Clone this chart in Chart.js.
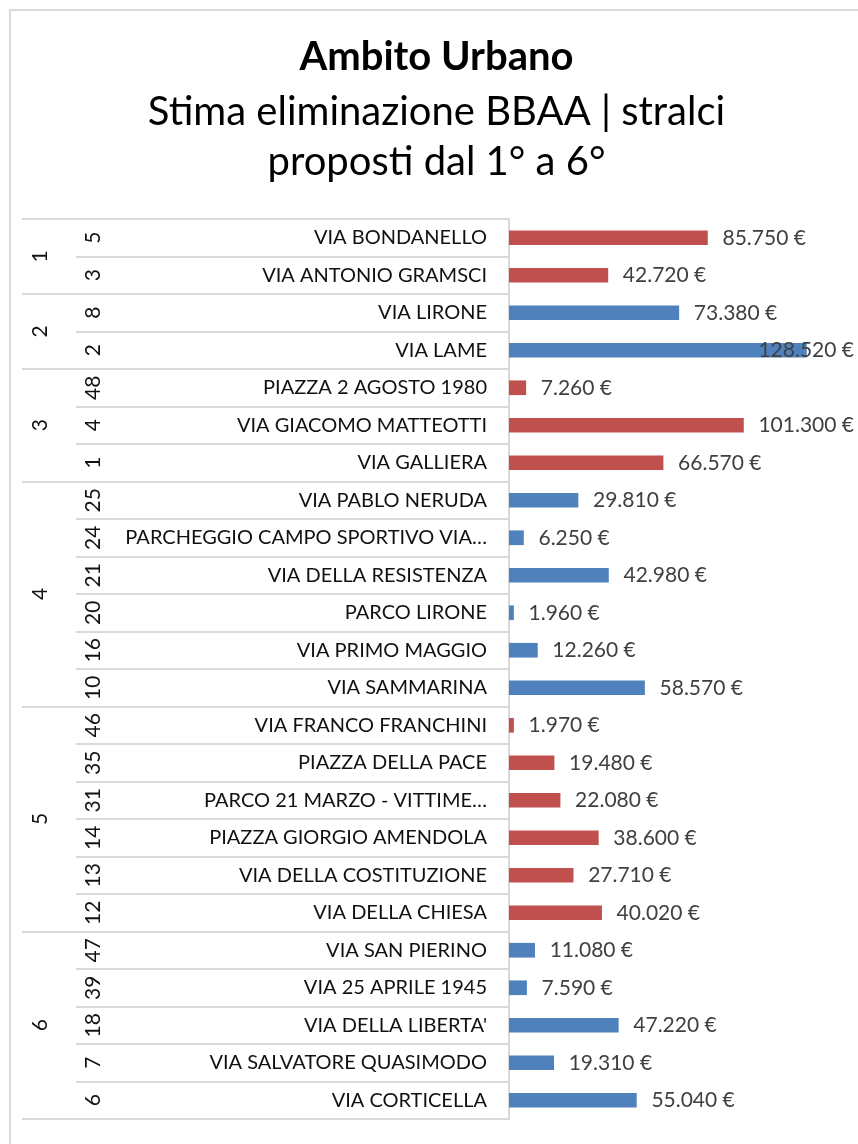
<!DOCTYPE html>
<html><head><meta charset="utf-8">
<script src="https://cdn.jsdelivr.net/npm/chart.js@4"></script>
<style>
html,body{margin:0;padding:0;background:#fff;}
#wrap{position:relative;width:858px;height:1144px;overflow:hidden;background:#fff;}
#frame{position:absolute;left:9px;top:9px;width:900px;height:1200px;border:2px solid #d9d9d9;box-sizing:border-box;}
canvas{position:absolute;left:0;top:0;}
</style></head><body>
<div id="wrap"><div id="frame"></div><canvas id="c" width="858" height="1144"></canvas></div>
<script>
const stralci = [1,1,2,2,3,3,3,4,4,4,4,4,4,5,5,5,5,5,5,6,6,6,6,6];
const numeri = ['5','3','8','2','48','4','1','25','24','21','20','16','10','46','35','31','14','13','12','47','39','18','7','6'];
const strade = ['VIA BONDANELLO','VIA ANTONIO GRAMSCI','VIA LIRONE','VIA LAME','PIAZZA 2 AGOSTO 1980','VIA GIACOMO MATTEOTTI','VIA GALLIERA','VIA PABLO NERUDA','PARCHEGGIO CAMPO SPORTIVO VIA…','VIA DELLA RESISTENZA','PARCO LIRONE','VIA PRIMO MAGGIO','VIA SAMMARINA','VIA FRANCO FRANCHINI','PIAZZA DELLA PACE','PARCO 21 MARZO - VITTIME…','PIAZZA GIORGIO AMENDOLA','VIA DELLA COSTITUZIONE','VIA DELLA CHIESA','VIA SAN PIERINO','VIA 25 APRILE 1945',"VIA DELLA LIBERTA'",'VIA SALVATORE QUASIMODO','VIA CORTICELLA'];
const costi = [85750,42720,73380,128520,7260,101300,66570,29810,6250,42980,1960,12260,58570,1970,19480,22080,38600,27710,40020,11080,7590,47220,19310,55040];
const coloriStralci = ['#C0504D','#4F81BD','#C0504D','#4F81BD','#C0504D','#4F81BD'];

const FONT = 'Lato';
const fmt = v => v.toLocaleString('de-DE') + ' €';

const multiAxis = {
  id:'multiAxis',
  afterDatasetsDraw(chart){
    const ctx = chart.ctx, ys = chart.scales.y, xs = chart.scales.x, area = chart.chartArea;
    const n = strade.length;
    const step = (area.bottom - area.top) / n;
    ctx.save();
    ctx.strokeStyle = '#d9d9d9'; ctx.lineWidth = 2;
    for (let i=0;i<=n;i++){
      const y = Math.round(area.top + i*step);
      const groupStart = (i===0 || i===n || stralci[i]!==stralci[i-1]);
      ctx.beginPath(); ctx.moveTo(groupStart?22:76, y); ctx.lineTo(area.left, y); ctx.stroke();
    }
    ctx.fillStyle = '#111';
    ctx.textBaseline = 'middle';
    for (let i=0;i<n;i++){
      const y = ys.getPixelForValue(i);
      ctx.font = '20px ' + FONT;
      ctx.textAlign = 'right';
      ctx.fillText(strade[i], 487, y);
      ctx.font = '21px ' + FONT;
      ctx.save(); ctx.translate(93, y); ctx.rotate(-Math.PI/2);
      ctx.textAlign = 'center'; ctx.fillText(numeri[i], 0, 0); ctx.restore();
    }
    ctx.font = '21px ' + FONT;
    let s = 0;
    for (let i=1;i<=n;i++){
      if (i===n || stralci[i]!==stralci[s]){
        const y = (ys.getPixelForValue(s) + ys.getPixelForValue(i-1))/2;
        ctx.save(); ctx.translate(40, y); ctx.rotate(-Math.PI/2);
        ctx.textAlign='center'; ctx.fillText(String(stralci[s]),0,0); ctx.restore();
        s = i;
      }
    }
    ctx.fillStyle = '#404040';
    ctx.font = '21px ' + FONT;
    ctx.textAlign = 'left';
    for (let i=0;i<n;i++){
      const y = ys.getPixelForValue(i);
      const t = fmt(costi[i]);
      const w = ctx.measureText(t).width;
      let x = xs.getPixelForValue(costi[i]) + 15;
      if (x + w > 854) x = 854 - w;
      ctx.fillText(t, x, y);
    }
    ctx.restore();
  }
};

new Chart(document.getElementById('c'), {
  type:'bar',
  data:{ labels: strade, datasets:[{ data: costi, backgroundColor: stralci.map(g=>coloriStralci[g-1]), barThickness:14, borderWidth:0 }]},
  options:{
    indexAxis:'y', responsive:false, animation:false,
    layout:{ padding:{ left:40, right:25, top:0, bottom:25 } },
    plugins:{
      legend:{display:false}, tooltip:{enabled:false},
      title:{ display:true, text:'Ambito Urbano', color:'#000', font:{family:FONT, size:40, weight:'bold', lineHeight:1.2}, padding:{top:33, bottom:0} },
      subtitle:{ display:true, text:['Stima eliminazione BBAA | stralci','proposti dal 1° a 6°'], color:'#000', font:{family:FONT, size:40, weight:'normal', lineHeight:1.25}, padding:{top:6, bottom:32} }
    },
    scales:{
      x:{ display:false, min:0, max:140000 },
      y:{ position:'left', grid:{display:false}, border:{display:true, color:'#d9d9d9', width:2}, ticks:{display:false},
          afterFit(scale){ scale.width = 469; } }
    }
  },
  plugins:[multiAxis]
});
</script>
</body></html>
